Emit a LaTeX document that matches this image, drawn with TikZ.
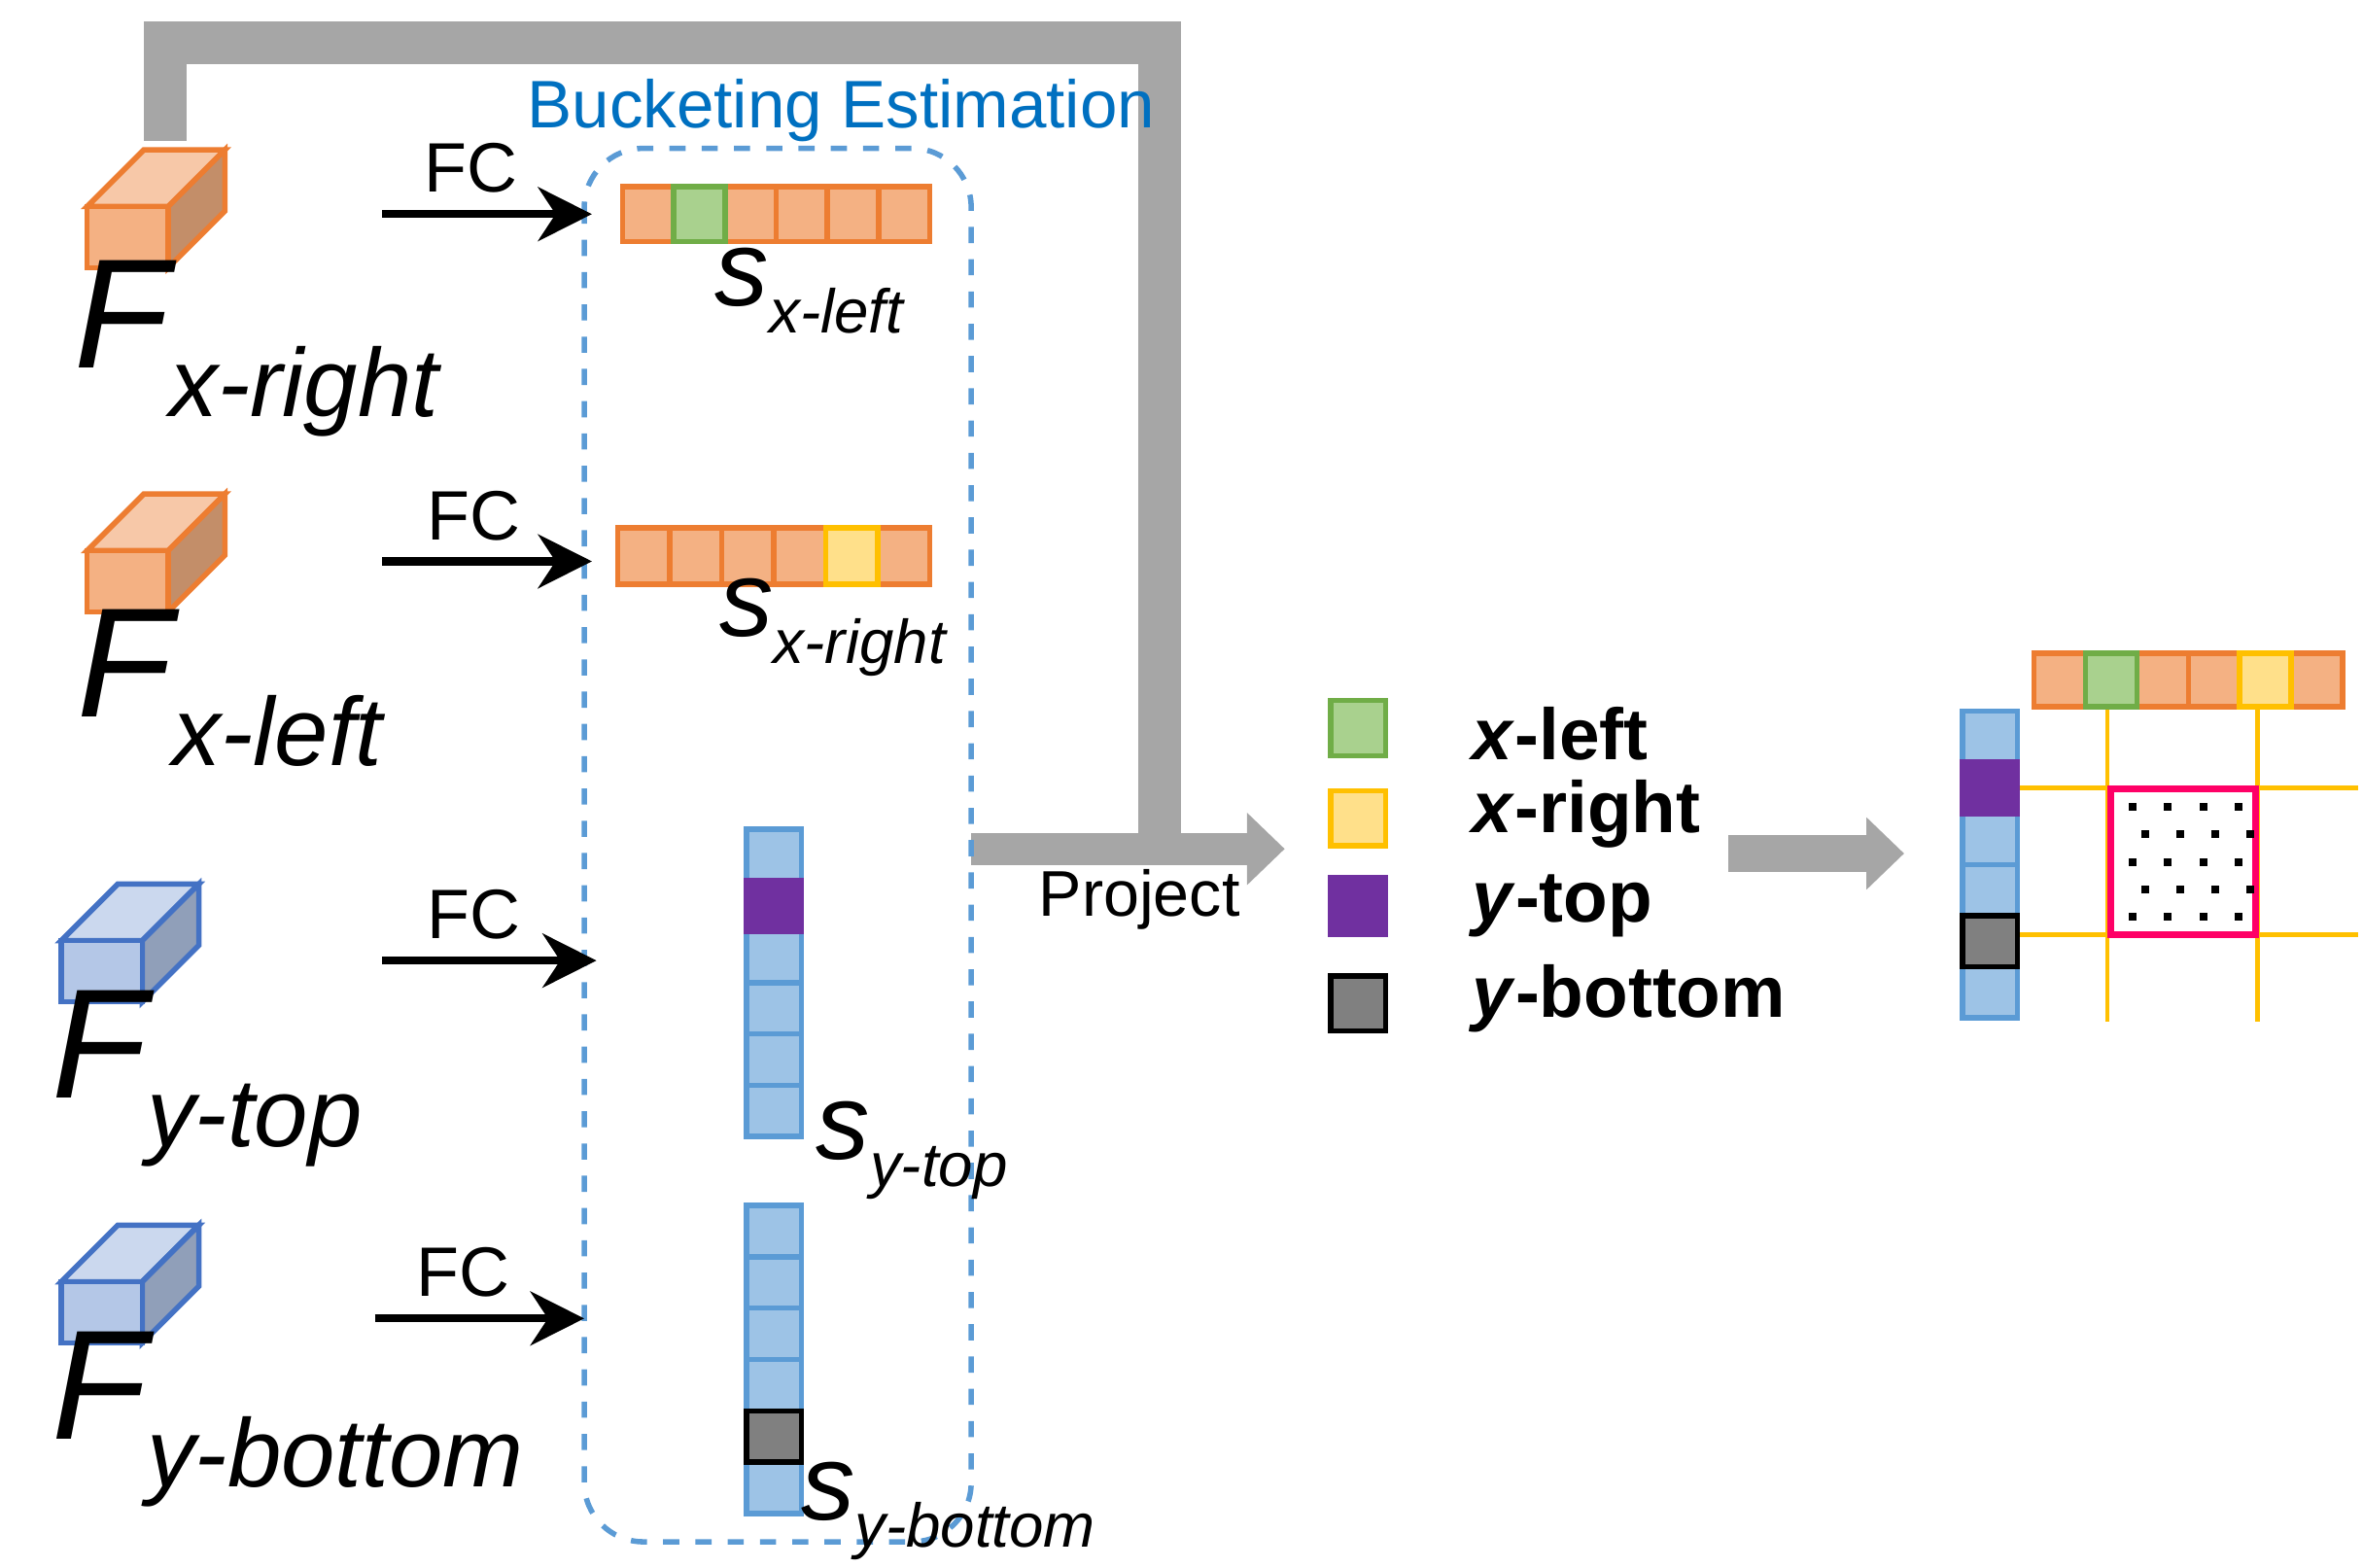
\documentclass[tikz,border=0pt]{standalone}
\usepackage{fontspec}
\setmainfont{Liberation Sans}
\usetikzlibrary{arrows.meta}
\definecolor{oF}{HTML}{F4B183}\definecolor{oB}{HTML}{ED7D31}
\definecolor{bF}{HTML}{9DC3E6}\definecolor{bB}{HTML}{5B9BD5}
\definecolor{gF}{HTML}{A9D18E}\definecolor{gB}{HTML}{70AD47}
\definecolor{yF}{HTML}{FFE08A}\definecolor{yB}{HTML}{FFC000}
\definecolor{pF}{HTML}{7030A0}
\definecolor{cbF}{HTML}{B4C7E7}\definecolor{cbB}{HTML}{4472C4}
\definecolor{grayA}{HTML}{A6A6A6}
\definecolor{pink}{HTML}{FF0066}
\definecolor{title}{HTML}{0070C0}
\tikzset{
 cell/.style={draw=#1,line width=1pt},
 fcarrow/.style={-{Stealth[length=10pt,width=10pt]},line width=1.5pt},
 big/.style={font=\fontsize{29}{29}\selectfont\itshape, anchor=west, inner sep=0},
 lbl/.style={font=\fontsize{20}{20}\selectfont\itshape, anchor=west, inner sep=0},
 leg/.style={font=\fontsize{13.5}{13.5}\selectfont\bfseries, anchor=west},
}
\newcommand{\hrow}[5]{%
 \foreach \i in {0,...,5}{\fill[oF] ({#1+\i*#3},#2) rectangle ++(#3,#4);\draw[cell=oB] ({#1+\i*#3},#2) rectangle ++(#3,#4);}
 \foreach \k/\f/\b in {#5}{\fill[\f] ({#1+\k*#3},#2) rectangle ++(#3,#4);\draw[cell=\b] ({#1+\k*#3},#2) rectangle ++(#3,#4);}}
\newcommand{\vcol}[5]{%
 \foreach \i in {0,...,5}{\fill[bF] (#1,{#2+\i*#4}) rectangle ++(#3,#4);\draw[cell=bB] (#1,{#2+\i*#4}) rectangle ++(#3,#4);}
 \foreach \k/\f/\b in {#5}{\fill[\f] (#1,{#2+\k*#4}) rectangle ++(#3,#4);\draw[cell=\b] (#1,{#2+\k*#4}) rectangle ++(#3,#4);}}
\newcommand{\cub}[4]{%
 \filldraw[fill=#3!70!white,draw=#4,line width=1pt] (#1,#2) -- ++(37,-37) -- ++(53,0) -- ++(-37,37) -- cycle;
 \filldraw[fill=#3!80!black,draw=#4,line width=1pt] ({#1+53},#2) -- ++(37,-37) -- ++(0,40) -- ++(-37,37) -- cycle;
 \filldraw[fill=#3,draw=#4,line width=1pt] (#1,#2) rectangle ++(53,40);}
\begin{document}
\begin{tikzpicture}[x=0.01cm,y=-0.01cm]
\useasboundingbox (0,0) rectangle (1545,1025);
\coordinate (gs) at (108,92); \coordinate (g1) at (108,28); \coordinate (g2) at (758,28); \coordinate (g3) at (758,555);
\draw[grayA,line width=8pt] (gs) -- (g1) -- (g2) -- (g3);
\coordinate (ps) at (635,555); \coordinate (pe) at (840,555);
\draw[grayA,line width=6pt,-{Triangle[length=7pt,width=13pt]}] (ps) -- (pe);
\node[font=\fontsize{12}{12}\selectfont] (proj) at (745,588) {Project};
\draw[bB,dashed,line width=1pt,rounded corners=11pt] (382,97) rectangle (635,1008);
\node[text=title,font=\fontsize{12.5}{12.5}\selectfont] (be) at (550,72) {Bucketing Estimation};
\cub{57}{135}{oF}{oB}
\cub{57}{360}{oF}{oB}
\cub{40}{615}{cbF}{cbB}
\cub{40}{838}{cbF}{cbB}
\node[big] (f1) at (48,228) {F\raisebox{-9pt}{\fontsize{18}{18}\selectfont x-right}};
\node[big] (f2) at (50,450) {F\raisebox{-9pt}{\fontsize{18}{18}\selectfont x-left}};
\node[big] (f3) at (33,705) {F\raisebox{-9pt}{\fontsize{18}{18}\selectfont y-top}};
\node[big] (f4) at (33,928) {F\raisebox{-9pt}{\fontsize{18}{18}\selectfont y-bottom}};
\foreach \n/\xa/\xb/\y/\lx in {a/250/387/140/308,b/250/387/367/310,c/250/390/628/310,d/245/382/862/303}{
 \coordinate (s\n) at (\xa,\y); \coordinate (e\n) at (\xb,\y);
 \draw[fcarrow] (s\n) -- (e\n);
 \node[font=\fontsize{13}{13}\selectfont] (fc\n) at (\lx,{\y-30}) {FC};}
\hrow{407}{122}{33.5}{36}{1/gF/gB}
\hrow{404}{345}{34}{37}{4/yF/yB}
\vcol{488}{542}{36}{33.5}{1/pF/pF}
\vcol{488}{788}{36}{33.6}{4/gray/black}
\node[lbl] (s1) at (467,190) {s\raisebox{-5pt}{\fontsize{11.5}{11.5}\selectfont x-left}};
\node[lbl] (s2) at (470,410) {s\raisebox{-5pt}{\fontsize{11.5}{11.5}\selectfont x-right}};
\node[lbl] (s3) at (533,752) {s\raisebox{-5pt}{\fontsize{11.5}{11.5}\selectfont y-top}};
\node[lbl] (s4) at (523,988) {s\raisebox{-5pt}{\fontsize{11.5}{11.5}\selectfont y-bottom}};
\filldraw[fill=gF,draw=gB,line width=1pt] (870,458) rectangle (906,494);
\filldraw[fill=yF,draw=yB,line width=1pt] (870,517) rectangle (906,553);
\filldraw[fill=pF,draw=pF,line width=1pt] (870,574) rectangle (906,611);
\filldraw[fill=gray,draw=black,line width=1pt] (870,638) rectangle (906,674);
\node[leg] (l1) at (950,480) {\textit{x}-left};
\node[leg] (l2) at (950,532) {\textit{x}-right};
\node[leg] (l3) at (950,592) {\textit{y}-top};
\node[leg] (l4) at (950,653) {\textit{y}-bottom};
\coordinate (qs) at (1130,558); \coordinate (qe) at (1245,558);
\draw[grayA,line width=7pt,-{Triangle[length=7pt,width=13pt]}] (qs) -- (qe);
\draw[yB,line width=0.8pt] (1378,462) -- (1378,668) (1476,462) -- (1476,668)
 (1319,515) -- (1542,515) (1319,611) -- (1542,611);
\hrow{1330}{427}{33.6}{35}{1/gF/gB,4/yF/yB}
\vcol{1283}{465}{36}{33.4}{1/pF/pF,4/gray/black}
\draw[pink,line width=1.3pt] (1380,516) rectangle (1475,611);
\foreach \c in {0,...,3}{\foreach \r in {0,...,4}{
 \fill[black] ({1392+\c*23+mod(\r,2)*8},{525+\r*18}) rectangle ++(5,5);}}
\end{tikzpicture}
\end{document}
